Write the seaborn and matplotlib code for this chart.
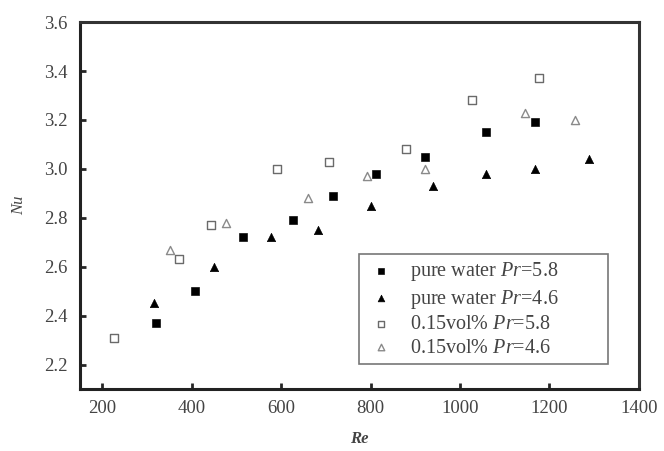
import matplotlib
matplotlib.use("Agg")
import matplotlib.pyplot as plt
import seaborn as sns
import pandas as pd

# Measured Nusselt numbers against Reynolds number
re_water_58 = [319, 408, 514, 627, 715, 812, 921, 1059, 1168]
nu_water_58 = [2.37, 2.50, 2.72, 2.79, 2.89, 2.98, 3.05, 3.15, 3.19]

re_water_46 = [316, 450, 578, 683, 802, 940, 1059, 1168, 1289]
nu_water_46 = [2.45, 2.60, 2.72, 2.75, 2.85, 2.93, 2.98, 3.00, 3.04]

re_nf_58 = [225, 371, 442, 590, 708, 880, 1028, 1176]
nu_nf_58 = [2.31, 2.63, 2.77, 3.00, 3.03, 3.08, 3.28, 3.37]

re_nf_46 = [352, 477, 661, 792, 921, 1146, 1257]
nu_nf_46 = [2.67, 2.78, 2.88, 2.97, 3.00, 3.23, 3.20]

series_labels = [
    "pure water $\\mathit{Pr}$=5.8",
    "pure water $\\mathit{Pr}$=4.6",
    "0.15vol% $\\mathit{Pr}$=5.8",
    "0.15vol% $\\mathit{Pr}$=4.6",
]
x_ticks = [200, 400, 600, 800, 1000, 1200, 1400]
y_ticks = [2.2, 2.4, 2.6, 2.8, 3.0, 3.2, 3.4, 3.6]

sns.set_style("ticks")
plt.rcParams["font.family"] = ["Liberation Serif", "DejaVu Serif"]
plt.rcParams["mathtext.fontset"] = "custom"
plt.rcParams["mathtext.rm"] = "Liberation Serif"
plt.rcParams["mathtext.it"] = "Liberation Serif:italic"
plt.rcParams["mathtext.bf"] = "Liberation Serif:bold"

fig = plt.figure(figsize=(6.64, 4.51), dpi=100)
ax = fig.add_axes([0.1205, 0.1375, 0.8415, 0.8135])

styles = [
    dict(marker="s", color="black", edgecolor="black", s=30),
    dict(marker="^", color="black", edgecolor="black", s=36),
    dict(marker="s", color="white", edgecolor="#6a6a6a", s=26, linewidth=1.0),
    dict(marker="^", color="white", edgecolor="#8a8a8a", s=34, linewidth=1.0),
]
datasets = [
    (re_water_58, nu_water_58),
    (re_water_46, nu_water_46),
    (re_nf_58, nu_nf_58),
    (re_nf_46, nu_nf_46),
]
for (re_vals, nu_vals), label, st in zip(datasets, series_labels, styles):
    df = pd.DataFrame({"Re": re_vals, "Nu": nu_vals})
    sns.scatterplot(data=df, x="Re", y="Nu", ax=ax, label=label, zorder=3, **st)

ax.set_xlim(150, 1400)
ax.set_ylim(2.1, 3.6)
ax.set_xticks(x_ticks)
ax.set_yticks(y_ticks)
ax.set_xticklabels([str(v) for v in x_ticks])
ax.set_yticklabels([f"{v:.1f}" for v in y_ticks])
ax.tick_params(axis="both", direction="in", length=4, width=2, labelsize=13.5,
               labelcolor="#444444")
ax.tick_params(axis="x", pad=8)
ax.tick_params(axis="y", pad=9)

for side in ["left", "bottom"]:
    ax.spines[side].set_linewidth(2.2)
    ax.spines[side].set_color("#222222")
for side in ["top", "right"]:
    ax.spines[side].set_visible(True)
    ax.spines[side].set_linewidth(2.2)
    ax.spines[side].set_color("#333333")

ax.set_xlabel("Re", fontstyle="italic", fontweight="bold", fontsize=12,
              color="#444444", labelpad=10)
ax.set_ylabel("Nu", fontstyle="italic", fontsize=12, color="#444444", labelpad=12)

leg = ax.legend(loc="lower left", bbox_to_anchor=(0.499, 0.068, 0.446, 0.3),
                mode="expand", fontsize=14.5,
                frameon=True, fancybox=False, edgecolor="#555555",
                handletextpad=0.6, labelspacing=0.22, borderpad=0.32,
                markerscale=0.8, borderaxespad=0, handlelength=1.6)
leg.get_frame().set_linewidth(1.2)
for t in leg.get_texts():
    t.set_color("#444444")

fig.savefig("out.png", dpi=100)
